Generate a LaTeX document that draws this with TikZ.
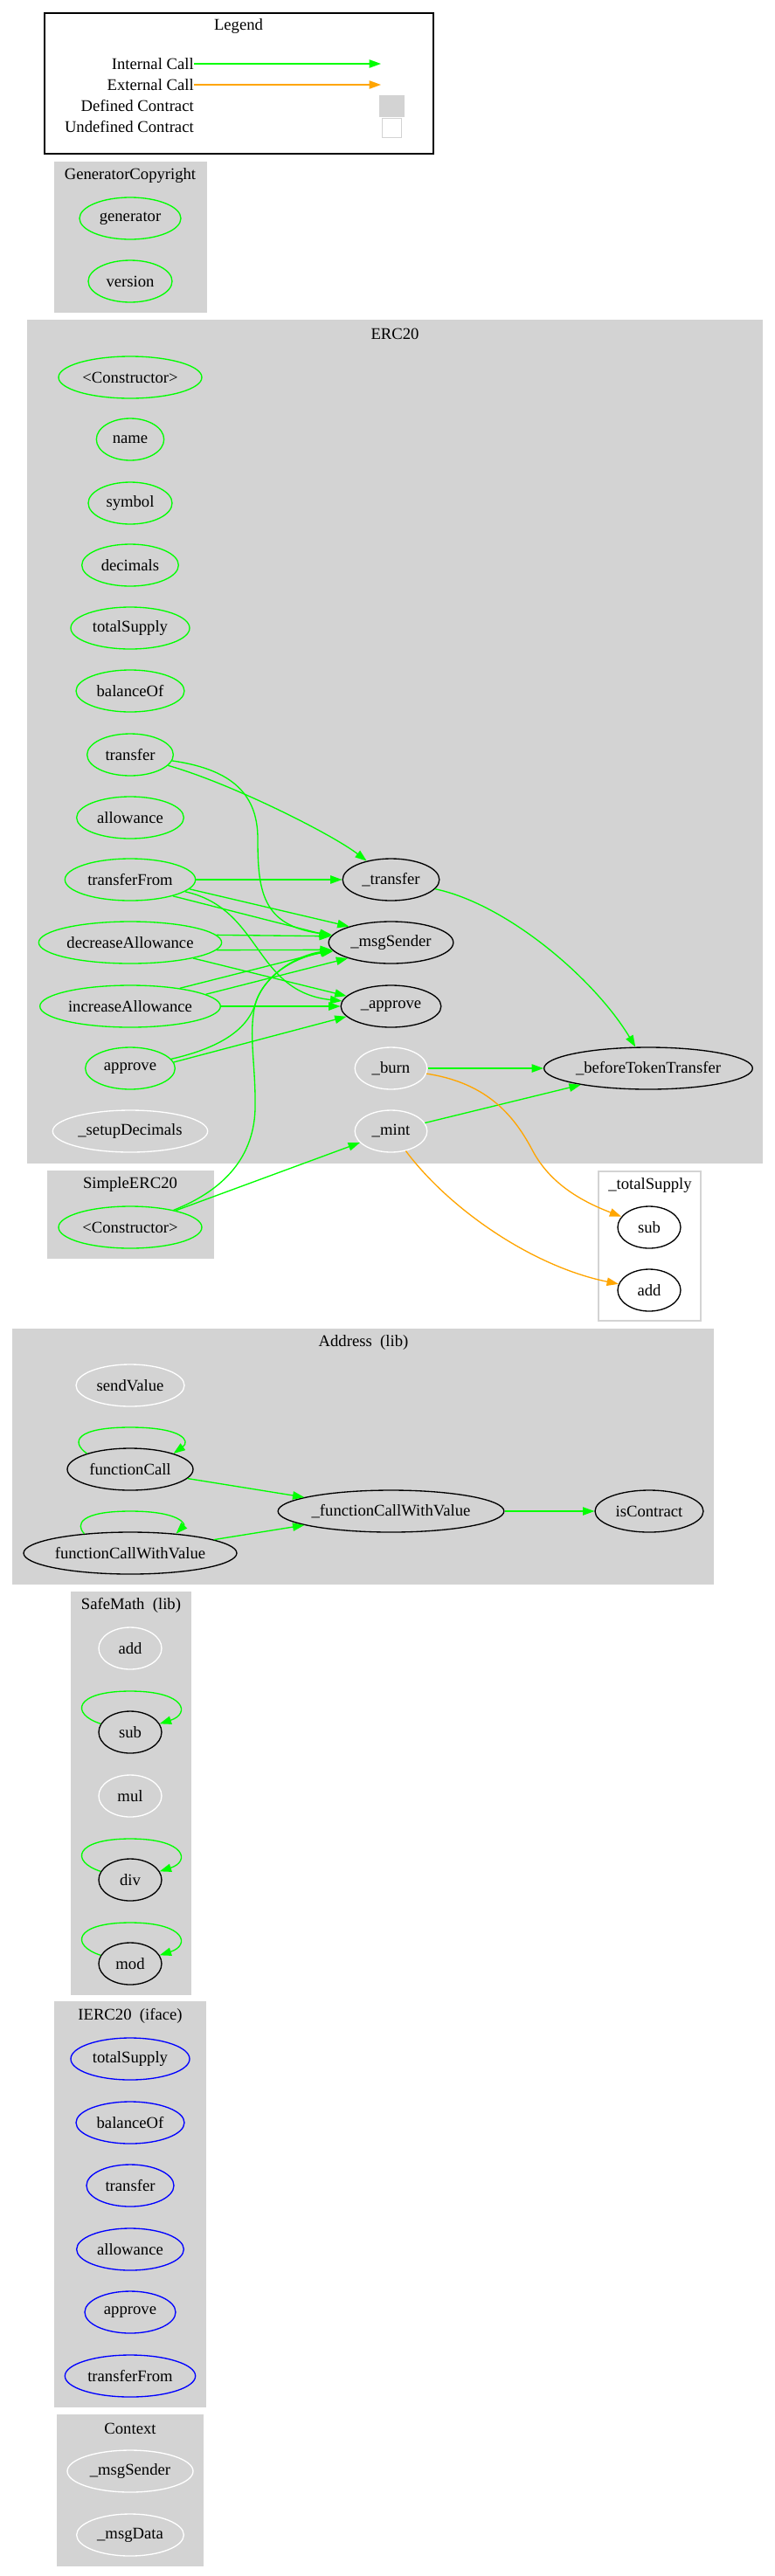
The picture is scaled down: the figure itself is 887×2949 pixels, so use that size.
\documentclass[tikz,border=0pt]{standalone}
\usepackage{fontspec}
\setmainfont{Liberation Serif}
\usetikzlibrary{shapes.geometric,arrows.meta}
\definecolor{lg}{HTML}{D3D3D3}
\definecolor{gr}{HTML}{00FF00}
\definecolor{og}{HTML}{FFA500}
\newcommand\gvfont{\fontsize{14}{16}\selectfont}
\tikzset{
  cl/.style={fill=lg, draw=lg, line width=1pt},
  ttl/.style={font=\gvfont, inner sep=0pt},
  fn/.style={ellipse, draw, line width=1pt, minimum height=36pt, inner sep=0pt, font=\gvfont},
  gn/.style={fn, draw=gr},
  wn/.style={fn, draw=white},
  bn/.style={fn, draw=black},
  un/.style={fn, draw=blue},
  ic/.style={draw=gr, line width=1pt, -{Triangle[length=10pt,width=7pt]}},
  ec/.style={draw=og, line width=1pt, -{Triangle[length=10pt,width=7pt]}},
}
\begin{document}
\begin{tikzpicture}[x=0.75pt,y=-0.75pt]
\useasboundingbox (0,0) rectangle (887,2949);
\fill[white] (0,0) rectangle (887,2949);

% ---------- Legend ----------
\draw[line width=1pt] (51,15) rectangle (496,176);
\node[ttl] (lgT) at (273,30) {Legend};
\node[ttl, anchor=east] (lgI) at (222,73) {Internal Call};
\node[ttl, anchor=east] (lgE) at (222,97) {External Call};
\node[ttl, anchor=east] (lgD) at (222,121) {Defined Contract};
\node[ttl, anchor=east] (lgU) at (222,145) {Undefined Contract};
\coordinate (lgIe) at (436,73);
\coordinate (lgEe) at (436,97);
\draw[ic] (lgI.east) -- (lgIe);
\draw[ec] (lgE.east) -- (lgEe);
\node[fill=lg, draw=lg, minimum width=21pt, minimum height=18pt, inner sep=0pt] (lgDs) at (448,121) {};
\node[fill=white, draw=lg, minimum width=16.5pt, minimum height=16.5pt, inner sep=0pt] (lgUs) at (448,146) {};

% ---------- GeneratorCopyright ----------
\draw[cl] (63,186) rectangle (236,357);
\node[ttl] (gcT) at (149,201) {GeneratorCopyright};
\node[gn, minimum width=87pt] (gcG) at (149,250) {generator};
\node[gn, minimum width=72pt] (gcV) at (149,322) {version};

% ---------- ERC20 ----------
\draw[cl] (32,367) rectangle (872,1331);
\node[ttl] (eT) at (452,382) {ERC20};
\node[gn, minimum width=123pt] (eC) at (149,432) {<Constructor>};
\node[gn, minimum width=58pt] (eName) at (149,503) {name};
\node[gn, minimum width=72pt] (eSym) at (149,576) {symbol};
\node[gn, minimum width=83pt] (eDec) at (149,647) {decimals};
\node[gn, minimum width=102pt] (eTS) at (149,719) {totalSupply};
\node[gn, minimum width=93pt] (eBal) at (149,791) {balanceOf};
\node[gn, minimum width=74pt] (eTr) at (149,864) {transfer};
\node[gn, minimum width=92pt] (eAll) at (149,936) {allowance};
\node[gn, minimum width=112pt] (eTF) at (149,1007) {transferFrom};
\node[gn, minimum width=157pt] (eDA) at (149,1079) {decreaseAllowance};
\node[gn, minimum width=155pt] (eIA) at (149,1152) {increaseAllowance};
\node[gn, minimum width=77pt] (eAp) at (149,1223) {approve};
\node[wn, minimum width=133pt] (eSD) at (149,1295) {\_setupDecimals};
\node[bn, minimum width=83pt] (e_tr) at (447.5,1007) {\_transfer};
\node[bn, minimum width=107pt] (e_ms) at (447.5,1079) {\_msgSender};
\node[bn, minimum width=86pt] (e_ap) at (447.5,1152) {\_approve};
\node[wn, minimum width=62pt] (e_burn) at (447.5,1223) {\_burn};
\node[wn, minimum width=62pt] (e_mint) at (447.5,1295) {\_mint};
\node[bn, minimum width=179pt] (e_btt) at (742,1223) {\_beforeTokenTransfer};

% ---------- SimpleERC20 ----------
\draw[cl] (55,1341) rectangle (244,1440);
\node[ttl] (sT) at (149,1356) {SimpleERC20};
\node[gn, minimum width=123pt] (sC) at (149,1405) {<Constructor>};

% ---------- _totalSupply ----------
\draw[fill=white, draw=lg, line width=1pt] (685,1341) rectangle (802,1512);
\node[ttl] (tsT) at (744,1357) {\_totalSupply};
\node[bn, minimum width=54pt] (tsSub) at (743,1405) {sub};
\node[bn, minimum width=54pt] (tsAdd) at (743,1477) {add};

% ---------- Address ----------
\draw[cl] (15,1522) rectangle (816,1813);
\node[ttl] (aT) at (416,1537) {Address\ \ (lib)};
\node[wn, minimum width=93pt] (aSV) at (149,1586) {sendValue};
\node[bn, minimum width=108pt] (aFC) at (149,1682) {functionCall};
\node[bn, minimum width=183pt] (aFCV) at (149,1778) {functionCallWithValue};
\node[bn, minimum width=194pt] (a_FCV) at (447.5,1730) {\_functionCallWithValue};
\node[bn, minimum width=93pt] (aIC) at (743,1730) {isContract};

% ---------- SafeMath ----------
\draw[cl] (82,1823) rectangle (218,2283);
\node[ttl] (smT) at (150,1838) {SafeMath\ \ (lib)};
\node[wn, minimum width=54pt] (smAdd) at (149,1887) {add};
\node[bn, minimum width=54pt] (smSub) at (149,1983) {sub};
\node[wn, minimum width=54pt] (smMul) at (149,2056) {mul};
\node[bn, minimum width=54pt] (smDiv) at (149,2152) {div};
\node[bn, minimum width=54pt] (smMod) at (149,2248) {mod};

% ---------- IERC20 ----------
\draw[cl] (63,2292) rectangle (235,2755);
\node[ttl] (iT) at (149,2308) {IERC20\ \ (iface)};
\node[un, minimum width=102pt] (iTS) at (149,2357) {totalSupply};
\node[un, minimum width=93pt] (iBal) at (149,2430) {balanceOf};
\node[un, minimum width=75pt] (iTr) at (149,2502) {transfer};
\node[un, minimum width=92pt] (iAll) at (149,2575) {allowance};
\node[un, minimum width=78pt] (iAp) at (149,2647) {approve};
\node[un, minimum width=112pt] (iTF) at (149,2720) {transferFrom};

% ---------- Context ----------
\draw[cl] (66,2765) rectangle (232,2937);
\node[ttl] (cT) at (149,2780) {Context};
\node[wn, minimum width=108pt] (cMS) at (149,2829) {\_msgSender};
\node[wn, minimum width=92pt] (cMD) at (149,2902) {\_msgData};

% ---------- ERC20 edges ----------
\draw[ic] (eTr) .. controls (265,897) and (380,955) .. (e_tr);
\draw[ic] (eTr) .. controls (260,880) and (295,905) .. (295,960) .. controls (295,1020) and (300,1060) .. (e_ms);
\draw[ic] (eTF) -- (e_tr);
\draw[ic] (eTF.351) -- (e_ms.159);
\draw[ic] (eTF.339) -- (e_ms.174);
\draw[ic] (eTF) .. controls (300,1040) and (290,1135) .. (e_ap);
\draw[ic] (eDA.5) -- (e_ms.174);
\draw[ic] (eDA.355) -- (e_ms.187);
\draw[ic] (eDA.346) -- (e_ap.167);
\draw[ic] (eIA.20) -- (e_ms.187);
\draw[ic] (eIA.9) -- (e_ms.200);
\draw[ic] (eIA) -- (e_ap);
\draw[ic] (eAp.8) -- (e_ap.193);
\draw[ic] (eAp) .. controls (250,1200) and (282,1180) .. (292,1150) .. controls (302,1115) and (340,1095) .. (e_ms);
\draw[ic] (sC) .. controls (250,1365) and (290,1330) .. (292,1270) .. controls (293,1220) and (284,1185) .. (292,1150) .. controls (302,1115) and (342,1093) .. (e_ms);
\draw[ic] (sC) -- (e_mint);
\draw[ic] (e_tr) .. controls (580,1035) and (680,1120) .. (e_btt);
\draw[ic] (e_burn) -- (e_btt);
\draw[ic] (e_mint) -- (e_btt);
\draw[ec] (e_burn) .. controls (560,1240) and (590,1280) .. (610,1318) .. controls (630,1355) and (665,1375) .. (tsSub);
\draw[ec] (e_mint) .. controls (515,1385) and (610,1450) .. (tsAdd);

% ---------- Address edges ----------
\draw[ic] (aFC.160) .. controls (80,1650) and (88,1634) .. (149,1634) .. controls (210,1634) and (218,1650) .. (aFC.20);
\draw[ic] (aFCV.157) .. controls (86,1745) and (92,1730) .. (149,1730) .. controls (206,1730) and (212,1745) .. (aFCV.23);
\draw[ic] (aFC) -- (a_FCV);
\draw[ic] (aFCV) -- (a_FCV);
\draw[ic] (a_FCV) -- (aIC);

% ---------- SafeMath loops ----------
\draw[ic] (smSub.164) .. controls (80,1962) and (85,1936) .. (149,1936) .. controls (213,1936) and (218,1962) .. (smSub.16);
\draw[ic] (smDiv.164) .. controls (80,2131) and (85,2105) .. (149,2105) .. controls (213,2105) and (218,2131) .. (smDiv.16);
\draw[ic] (smMod.164) .. controls (80,2227) and (85,2201) .. (149,2201) .. controls (213,2201) and (218,2227) .. (smMod.16);
\end{tikzpicture}
\end{document}
